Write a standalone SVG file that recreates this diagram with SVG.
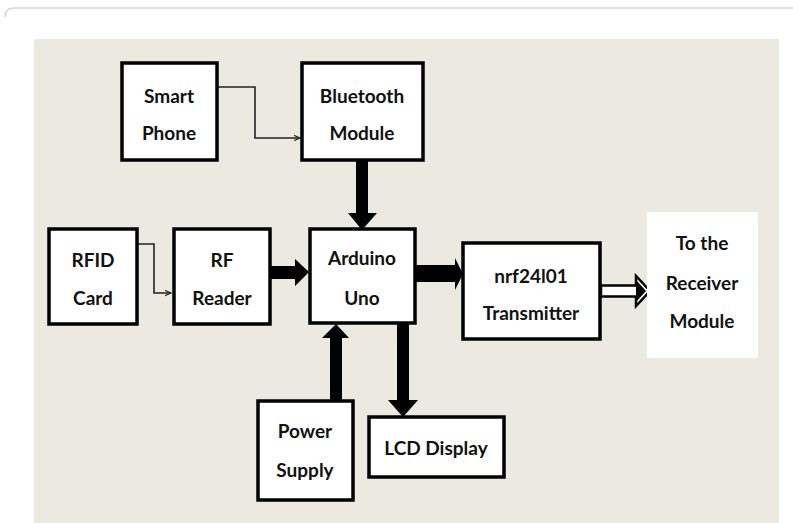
<svg xmlns="http://www.w3.org/2000/svg" width="793" height="523" viewBox="0 0 793 523">
<defs>
<style>
.box{fill:#fff;stroke:#000;stroke-width:3.5}
.t{font-family:Lato,"Open Sans","Liberation Sans",sans-serif;font-weight:bold;font-size:19px;fill:#111;text-anchor:middle}
.thin{fill:none;stroke:#222;stroke-width:1.6}
.thick{fill:#000}
</style>
<marker id="ah" viewBox="0 0 10 10" refX="9" refY="5" markerWidth="7" markerHeight="7" markerUnits="userSpaceOnUse" orient="auto">
<path d="M0,1 L9,5 L0,9" fill="none" stroke="#222" stroke-width="1.5"/>
</marker>
</defs>
<rect x="0" y="0" width="793" height="523" fill="#fff"/>
<path d="M5,17 Q5,8 14,8 L793,8" fill="none" stroke="#d6d6d6" stroke-width="1.5"/>
<rect x="34" y="39" width="745" height="484" fill="#ECE9E1"/>

<g id="connectors">
<path class="thin" d="M217,87 H255 V138 H300" marker-end="url(#ah)"/>
<path class="thin" d="M137,244 H154 V293 H171" marker-end="url(#ah)"/>
<path class="thick" d="M356,160 H368 V213 H377 L362,230 L348,213 H356 Z"/>
<path class="thick" d="M270,266 H295 V259 L309,272 L295,286 V279 H270 Z"/>
<path class="thick" d="M415,265 H455 V258 L463,274 L455,290 V282 H415 Z"/>
<path class="thick" d="M330,400 V338 H322 L336,324 L349,338 H342 V400 Z"/>
<path class="thick" d="M397,323 H409 V400 H418 L403,417 L388,400 H397 Z"/>
<path d="M601,285.5 H636 V276 L650,291 L636,306 V296.5 H601 Z" fill="#fff" stroke="#000" stroke-width="2.5"/>
<path d="M636,280 L646,291 L636,302 Z" fill="#000"/>
</g>

<g id="smart-phone">
<rect class="box" x="122" y="63" width="95" height="97"/>
<text class="t" x="169" y="103">Smart</text>
<text class="t" x="169" y="140">Phone</text>
</g>
<g id="bluetooth-module">
<rect class="box" x="302" y="63" width="121" height="97"/>
<text class="t" x="362" y="103">Bluetooth</text>
<text class="t" x="362" y="140">Module</text>
</g>
<g id="rfid-card">
<rect class="box" x="49" y="229" width="88" height="95"/>
<text class="t" x="93" y="267">RFID</text>
<text class="t" x="93" y="305">Card</text>
</g>
<g id="rf-reader">
<rect class="box" x="174" y="229" width="96" height="95"/>
<text class="t" x="222" y="267">RF</text>
<text class="t" x="222" y="305">Reader</text>
</g>
<g id="arduino-uno">
<rect class="box" x="310" y="229" width="105" height="94"/>
<text class="t" x="362" y="265">Arduino</text>
<text class="t" x="362" y="305">Uno</text>
</g>
<g id="nrf24l01-transmitter">
<rect class="box" x="463" y="243" width="137" height="96"/>
<text class="t" x="531" y="283">nrf24l01</text>
<text class="t" x="531" y="320">Transmitter</text>
</g>
<g id="receiver-module">
<rect x="647" y="212" width="111" height="146" fill="#fff"/>
<text class="t" x="702" y="250">To the</text>
<text class="t" x="702" y="290">Receiver</text>
<text class="t" x="702" y="328">Module</text>
</g>
<g id="power-supply">
<rect class="box" x="258" y="401" width="95" height="99"/>
<text class="t" x="305" y="438">Power</text>
<text class="t" x="305" y="477">Supply</text>
</g>
<g id="lcd-display">
<rect class="box" x="369" y="417" width="135" height="60"/>
<text class="t" x="436" y="455">LCD Display</text>
</g>
</svg>
